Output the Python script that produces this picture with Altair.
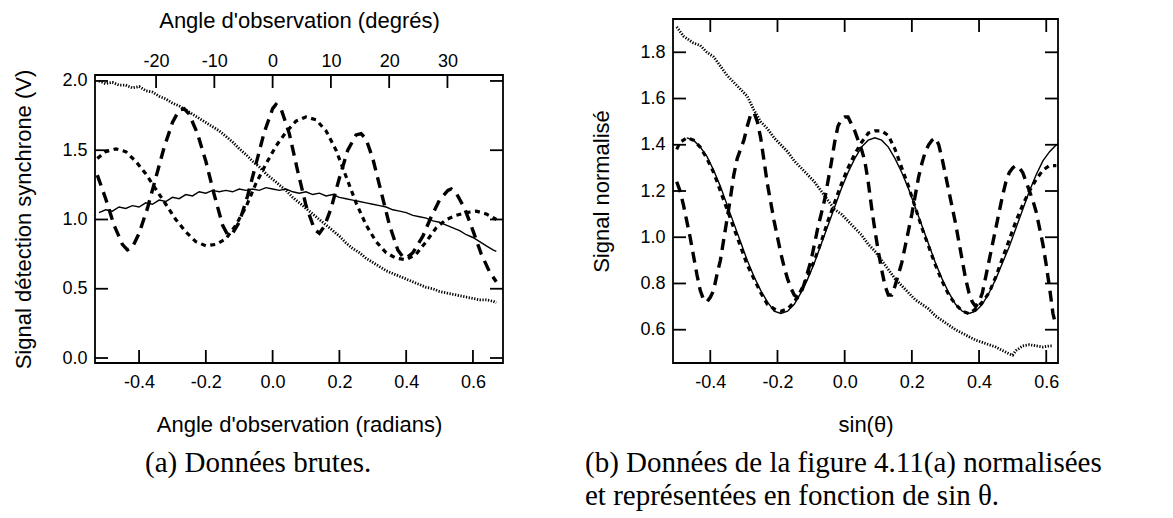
import math
import altair as alt
import pandas as pd

# ---------------- data : panel (a) ----------------
LA_X = [-0.52, -0.50, -0.48, -0.46, -0.44, -0.42, -0.40, -0.38, -0.36, -0.34, -0.32, -0.30,
        -0.28, -0.26, -0.24, -0.22, -0.20, -0.18, -0.16, -0.14, -0.12, -0.10, -0.08, -0.06,
        -0.04, -0.02, 0.00, 0.02, 0.04, 0.06, 0.08, 0.10, 0.12, 0.14, 0.16, 0.18, 0.20, 0.22,
        0.24, 0.26, 0.28, 0.30, 0.32, 0.34, 0.36, 0.38, 0.40, 0.42, 0.44, 0.46, 0.48, 0.50,
        0.52, 0.54, 0.56, 0.58, 0.60, 0.62, 0.64, 0.66, 0.67]
LA_SOLID = [1.05, 1.07, 1.06, 1.09, 1.08, 1.10, 1.09, 1.12, 1.11, 1.14, 1.13, 1.16,
            1.15, 1.18, 1.17, 1.20, 1.19, 1.21, 1.20, 1.21, 1.20, 1.22, 1.21, 1.22,
            1.21, 1.23, 1.22, 1.21, 1.22, 1.20, 1.19, 1.20, 1.18, 1.19, 1.17, 1.18, 1.16, 1.15,
            1.14, 1.13, 1.12, 1.11, 1.10, 1.09, 1.07, 1.06, 1.05, 1.03, 1.02, 1.01, 0.99, 0.98,
            0.96, 0.94, 0.92, 0.89, 0.87, 0.84, 0.81, 0.78, 0.77]
LA_DOT = [2.00, 1.98, 1.99, 1.97, 1.97, 1.95, 1.96, 1.93, 1.92, 1.89, 1.87, 1.84,
          1.82, 1.79, 1.76, 1.73, 1.70, 1.67, 1.64, 1.60, 1.56, 1.51, 1.47, 1.42,
          1.38, 1.33, 1.29, 1.25, 1.21, 1.16, 1.12, 1.08, 1.04, 1.00, 0.96, 0.92, 0.88, 0.83,
          0.79, 0.76, 0.72, 0.69, 0.66, 0.63, 0.61, 0.59, 0.57, 0.55, 0.53, 0.51, 0.50, 0.48,
          0.47, 0.46, 0.45, 0.44, 0.43, 0.42, 0.42, 0.41, 0.40]
LA_SHORT_X = [-0.525, -0.50, -0.47, -0.44, -0.41, -0.38, -0.35, -0.32, -0.29, -0.26, -0.23,
              -0.20, -0.17, -0.14, -0.11, -0.08, -0.05, -0.02, 0.01, 0.04, 0.07, 0.10, 0.13,
              0.16, 0.19, 0.22, 0.25, 0.28, 0.31, 0.34, 0.37, 0.40, 0.43, 0.46, 0.49, 0.52,
              0.55, 0.58, 0.61, 0.64, 0.67]
LA_SHORT = [1.44, 1.49, 1.51, 1.49, 1.42, 1.33, 1.22, 1.11, 1.00, 0.91, 0.84,
            0.81, 0.82, 0.86, 0.96, 1.09, 1.26, 1.40, 1.53, 1.63, 1.71, 1.74, 1.72,
            1.64, 1.50, 1.31, 1.12, 0.96, 0.84, 0.76, 0.72, 0.71, 0.75, 0.84, 0.94, 1.00,
            1.03, 1.05, 1.06, 1.04, 1.00]
LA_LONG_X = [-0.525, -0.50, -0.475, -0.45, -0.435, -0.42, -0.40, -0.375, -0.35, -0.325, -0.30,
             -0.28, -0.265, -0.25, -0.225, -0.20, -0.175, -0.15, -0.135, -0.12, -0.10, -0.075,
             -0.05, -0.025, 0.0, 0.01, 0.025, 0.05, 0.075, 0.10, 0.125, 0.14, 0.155, 0.175,
             0.20, 0.225, 0.25, 0.265, 0.28, 0.30, 0.325, 0.35, 0.375, 0.39, 0.40, 0.42, 0.45,
             0.475, 0.50, 0.525, 0.535, 0.55, 0.575, 0.60, 0.625, 0.65, 0.67]
LA_LONG = [1.32, 1.15, 0.96, 0.82, 0.78, 0.80, 0.90, 1.08, 1.30, 1.52, 1.70,
           1.79, 1.80, 1.76, 1.62, 1.42, 1.18, 0.96, 0.89, 0.90, 0.98, 1.17,
           1.40, 1.63, 1.80, 1.83, 1.80, 1.62, 1.35, 1.10, 0.93, 0.90, 0.95, 1.08,
           1.30, 1.50, 1.61, 1.62, 1.58, 1.44, 1.20, 0.96, 0.78, 0.73, 0.72, 0.76, 0.88,
           1.02, 1.14, 1.21, 1.22, 1.19, 1.08, 0.92, 0.75, 0.62, 0.55]

# ---------------- data : panel (b) ----------------
LB_DOT_X = [-0.50, -0.49, -0.48, -0.47, -0.45, -0.43, -0.41, -0.39, -0.37, -0.35, -0.33, -0.31,
            -0.29, -0.27, -0.25, -0.23, -0.21, -0.19, -0.17, -0.15, -0.13, -0.11, -0.09, -0.07,
            -0.05, -0.03, -0.01, 0.01, 0.03, 0.05, 0.07, 0.09, 0.11, 0.13, 0.15, 0.17, 0.19,
            0.21, 0.23, 0.25, 0.27, 0.29, 0.31, 0.33, 0.35, 0.37, 0.39, 0.41, 0.43, 0.45, 0.47,
            0.49, 0.50, 0.51, 0.53, 0.55, 0.57, 0.59, 0.61, 0.62]
LB_DOT = [1.91, 1.89, 1.87, 1.86, 1.84, 1.83, 1.80, 1.78, 1.74, 1.70, 1.67, 1.64,
          1.61, 1.55, 1.50, 1.47, 1.43, 1.40, 1.37, 1.33, 1.30, 1.27, 1.24, 1.20,
          1.16, 1.12, 1.10, 1.07, 1.04, 1.01, 0.97, 0.94, 0.90, 0.86, 0.82, 0.79, 0.76,
          0.73, 0.71, 0.69, 0.66, 0.64, 0.62, 0.60, 0.585, 0.57, 0.555, 0.545, 0.535, 0.525, 0.51,
          0.495, 0.49, 0.51, 0.53, 0.535, 0.53, 0.525, 0.53, 0.53]
LB_FIT_X = [-0.47, -0.45, -0.43, -0.41, -0.39, -0.37, -0.35, -0.33, -0.31, -0.29, -0.27, -0.25,
            -0.23, -0.21, -0.19, -0.17, -0.15, -0.13, -0.11, -0.09, -0.07, -0.05, -0.03, -0.01,
            0.01, 0.03, 0.05, 0.07, 0.09, 0.11, 0.13, 0.15, 0.17, 0.19, 0.21, 0.23, 0.25, 0.27,
            0.29, 0.31, 0.33, 0.35, 0.37, 0.39, 0.41, 0.43, 0.45, 0.47, 0.49, 0.51, 0.53, 0.55,
            0.57, 0.59, 0.61, 0.63]
LB_FIT = [1.43, 1.42, 1.39, 1.35, 1.29, 1.22, 1.14, 1.06, 0.98, 0.90, 0.83, 0.77,
          0.72, 0.68, 0.67, 0.68, 0.71, 0.76, 0.82, 0.89, 0.97, 1.05, 1.13, 1.21,
          1.28, 1.34, 1.39, 1.42, 1.43, 1.42, 1.39, 1.34, 1.28, 1.21, 1.13, 1.05, 0.97, 0.89,
          0.82, 0.76, 0.71, 0.68, 0.67, 0.68, 0.71, 0.76, 0.82, 0.89, 0.96, 1.04, 1.12, 1.20,
          1.27, 1.33, 1.37, 1.40]
LB_SHORT_X = [-0.50, -0.49, -0.47, -0.45, -0.43, -0.41, -0.39, -0.37, -0.35, -0.33, -0.31, -0.29,
              -0.27, -0.25, -0.23, -0.21, -0.19, -0.17, -0.15, -0.13, -0.11, -0.09, -0.07, -0.05,
              -0.03, -0.01, 0.01, 0.03, 0.05, 0.07, 0.09, 0.11, 0.13, 0.15, 0.17, 0.19, 0.21,
              0.23, 0.25, 0.27, 0.29, 0.31, 0.33, 0.35, 0.37, 0.39, 0.41, 0.43, 0.45, 0.47, 0.49,
              0.51, 0.53, 0.55, 0.57, 0.59, 0.61, 0.63]
LB_SHORT = [1.38, 1.41, 1.43, 1.42, 1.39, 1.34, 1.28, 1.20, 1.12, 1.04, 0.96, 0.88,
            0.82, 0.76, 0.71, 0.69, 0.68, 0.69, 0.72, 0.77, 0.83, 0.90, 0.98, 1.07,
            1.15, 1.23, 1.30, 1.36, 1.41, 1.45, 1.46, 1.46, 1.44, 1.38, 1.30, 1.22, 1.13,
            1.04, 0.96, 0.88, 0.81, 0.75, 0.71, 0.68, 0.67, 0.69, 0.72, 0.76, 0.83, 0.91, 0.99,
            1.07, 1.14, 1.20, 1.25, 1.29, 1.31, 1.31]
LB_LONG_X = [-0.50, -0.49, -0.48, -0.47, -0.46, -0.45, -0.44, -0.43, -0.42, -0.41, -0.40, -0.39,
             -0.38, -0.37, -0.36, -0.35, -0.34, -0.33, -0.32, -0.31, -0.30, -0.29, -0.28, -0.27,
             -0.26, -0.25, -0.24, -0.23, -0.22, -0.21, -0.20, -0.19, -0.18, -0.17, -0.16, -0.15,
             -0.14, -0.13, -0.12, -0.11, -0.10, -0.09, -0.08, -0.07, -0.06, -0.05, -0.04, -0.03,
             -0.02, -0.01, 0.00, 0.01, 0.02, 0.03, 0.04, 0.05, 0.06, 0.07, 0.08, 0.09, 0.10,
             0.11, 0.12, 0.13, 0.14, 0.15, 0.16, 0.17, 0.18, 0.19, 0.20, 0.21, 0.22, 0.23,
             0.24, 0.25, 0.26, 0.27, 0.28, 0.29, 0.30, 0.31, 0.32, 0.33, 0.34, 0.35, 0.36,
             0.37, 0.38, 0.39, 0.40, 0.41, 0.42, 0.43, 0.44, 0.45, 0.46, 0.47, 0.48, 0.49,
             0.50, 0.51, 0.52, 0.53, 0.54, 0.55, 0.56, 0.57, 0.58, 0.59, 0.60, 0.61, 0.62, 0.625]
LB_LONG = [1.24, 1.20, 1.14, 1.07, 1.00, 0.92, 0.84, 0.77, 0.73, 0.72, 0.74, 0.77,
           0.84, 0.90, 0.99, 1.08, 1.17, 1.27, 1.34, 1.38, 1.42, 1.48, 1.53, 1.54,
           1.50, 1.43, 1.33, 1.23, 1.15, 1.07, 1.00, 0.93, 0.87, 0.82, 0.78, 0.75,
           0.74, 0.76, 0.80, 0.85, 0.90, 0.97, 1.04, 1.10, 1.16, 1.24, 1.32, 1.41,
           1.48, 1.51, 1.52, 1.52, 1.49, 1.46, 1.42, 1.38, 1.33, 1.24, 1.13, 1.03, 0.94,
           0.86, 0.79, 0.75, 0.75, 0.79, 0.84, 0.89, 0.96, 1.03, 1.10, 1.18, 1.26, 1.32,
           1.37, 1.40, 1.42, 1.43, 1.40, 1.34, 1.27, 1.20, 1.13, 1.06, 0.98, 0.90, 0.82,
           0.76, 0.72, 0.70, 0.72, 0.76, 0.83, 0.90, 0.97, 1.04, 1.11, 1.18, 1.24, 1.28,
           1.30, 1.31, 1.30, 1.28, 1.24, 1.20, 1.16, 1.11, 1.04, 0.97, 0.88, 0.78, 0.67, 0.64]

# ---------------- axis tick values ----------------
A_XTICKS = [-0.4, -0.2, 0.0, 0.2, 0.4, 0.6]
A_YTICKS = [0.0, 0.5, 1.0, 1.5, 2.0]
A_DEGTICKS = [-20, -10, 0, 10, 20, 30]
B_XTICKS = [-0.4, -0.2, 0.0, 0.2, 0.4, 0.6]
B_YTICKS = [0.6, 0.8, 1.0, 1.2, 1.4, 1.6, 1.8]

# ---------------- layout ----------------
A_W, A_H = 408, 288
B_W, B_H = 385, 344
TICK = 13
A_XDOM = [-0.532, 0.690]
A_YDOM = [-0.036, 2.043]
A_DEGDOM = [v * 180 / math.pi for v in A_XDOM]
B_XDOM = [-0.511, 0.635]
B_YDOM = [0.456, 1.944]

SANS = "Liberation Sans"
SERIF = "Liberation Serif"


def lab(fmt):
    return ("datum.value < 0 ? '-' + format(-datum.value, '%s') : format(datum.value, '%s')"
            % (fmt, fmt))


STYLES = {
    "solid": dict(strokeWidth=1.4),
    "dot": dict(strokeWidth=2.8, strokeDash=[1.3, 1.5]),
    "short": dict(strokeWidth=3.2, strokeDash=[5, 4.5]),
    "long": dict(strokeWidth=3.4, strokeDash=[11, 7]),
}


def line_layer(xs, ys, style, xscale, yscale, xaxis, yaxis):
    return alt.Chart(pd.DataFrame({"x": xs, "y": ys})).mark_line(
        color="black", strokeCap="butt", **STYLES[style]
    ).encode(
        x=alt.X("x:Q", scale=xscale, axis=xaxis),
        y=alt.Y("y:Q", scale=yscale, axis=yaxis),
    )


def xtick_rules(vals, xscale, xaxis, h, where):
    d = pd.DataFrame({"t": vals})
    if where == "bottom":
        y0, y1 = h, h - TICK
    else:
        y0, y1 = 0, TICK
    return alt.Chart(d).mark_rule(color="black", strokeWidth=1.8).encode(
        x=alt.X("t:Q", scale=xscale, axis=xaxis),
        y=alt.value(y0), y2=alt.value(y1))


def ytick_rules(vals, yscale, yaxis, w, where):
    d = pd.DataFrame({"t": vals})
    if where == "left":
        x0, x1 = 0, TICK
    else:
        x0, x1 = w - TICK, w
    return alt.Chart(d).mark_rule(color="black", strokeWidth=1.8).encode(
        y=alt.Y("t:Q", scale=yscale, axis=yaxis),
        x=alt.value(x0), x2=alt.value(x1))


# ---------------- panel (a) ----------------
ax_s = alt.Scale(domain=A_XDOM, nice=False, zero=False)
ay_s = alt.Scale(domain=A_YDOM, nice=False, zero=False)
a_xaxis = alt.Axis(values=A_XTICKS, labelExpr=lab(".1f"), title="Angle d'observation  (radians)",
                   labelPadding=10, titlePadding=23)
a_yaxis = alt.Axis(values=A_YTICKS, labelExpr=lab(".1f"), title="Signal détection synchrone (V)",
                   labelPadding=8, titlePadding=26)

# x is resolved independently in panel (a) (second, degree axis on top):
# only the first radian layer carries the bottom axis.
a_layers = [
    line_layer(LA_X, LA_DOT, "dot", ax_s, ay_s, a_xaxis, a_yaxis),
    line_layer(LA_SHORT_X, LA_SHORT, "short", ax_s, ay_s, None, a_yaxis),
    line_layer(LA_LONG_X, LA_LONG, "long", ax_s, ay_s, None, a_yaxis),
    line_layer(LA_X, LA_SOLID, "solid", ax_s, ay_s, None, a_yaxis),
    xtick_rules(A_XTICKS, ax_s, None, A_H, "bottom"),
    ytick_rules(A_YTICKS, ay_s, a_yaxis, A_W, "left"),
    ytick_rules(A_YTICKS, ay_s, a_yaxis, A_W, "right"),
    alt.Chart(pd.DataFrame({"d": A_DEGTICKS})).mark_rule(color="black", strokeWidth=1.8).encode(
        x=alt.X("d:Q", scale=alt.Scale(domain=A_DEGDOM, nice=False, zero=False),
                axis=alt.Axis(orient="top", values=A_DEGTICKS, labelExpr=lab("d"),
                              title="Angle d'observation (degrés)", labelPadding=5,
                              titlePadding=20)),
        y=alt.value(0), y2=alt.value(TICK)),
]

panel_a = alt.layer(*a_layers).resolve_scale(x="independent").properties(
    width=A_W, height=A_H,
    title=alt.TitleParams(text="(a) Données brutes.", orient="bottom", anchor="start",
                          frame="group", dx=50, offset=14, font=SERIF, fontSize=29,
                          fontWeight="normal", color="black", align="left"))

spacer = alt.Chart(pd.DataFrame({"s": [0]})).mark_point(opacity=0).properties(
    width=A_W, height=B_H - A_H, view=alt.ViewBackground(stroke="transparent"))

col_a = alt.vconcat(spacer, panel_a, spacing=0, bounds="flush")

# ---------------- panel (b) ----------------
bx_s = alt.Scale(domain=B_XDOM, nice=False, zero=False)
by_s = alt.Scale(domain=B_YDOM, nice=False, zero=False)
b_xaxis = alt.Axis(values=B_XTICKS, labelExpr=lab(".1f"), title="sin(θ)",
                   labelPadding=10, titlePadding=23)
b_yaxis = alt.Axis(values=B_YTICKS, labelExpr=lab(".1f"), title="Signal normalisé",
                   labelPadding=8, titlePadding=26)

b_layers = [
    line_layer(LB_DOT_X, LB_DOT, "dot", bx_s, by_s, b_xaxis, b_yaxis),
    line_layer(LB_SHORT_X, LB_SHORT, "short", bx_s, by_s, b_xaxis, b_yaxis),
    line_layer(LB_LONG_X, LB_LONG, "long", bx_s, by_s, b_xaxis, b_yaxis),
    line_layer(LB_FIT_X, LB_FIT, "solid", bx_s, by_s, b_xaxis, b_yaxis),
    xtick_rules(B_XTICKS, bx_s, b_xaxis, B_H, "bottom"),
    xtick_rules(B_XTICKS, bx_s, b_xaxis, B_H, "top"),
    ytick_rules(B_YTICKS, by_s, b_yaxis, B_W, "left"),
    ytick_rules(B_YTICKS, by_s, b_yaxis, B_W, "right"),
]

panel_b = alt.layer(*b_layers).properties(
    width=B_W, height=B_H,
    title=alt.TitleParams(text=["(b) Données de la figure 4.11(a) normalisées",
                                "et représentées en fonction de sin θ."],
                          orient="bottom", anchor="start", frame="group", dx=-88, offset=14,
                          font=SERIF, fontSize=29, fontWeight="normal", color="black",
                          align="left", lineHeight=33))

chart = alt.hconcat(col_a, panel_b, spacing=79).configure_view(
    stroke="black", strokeWidth=1.8
).configure_axis(
    labelFont=SANS, labelFontSize=18, labelColor="black",
    titleFont=SANS, titleFontSize=22, titleFontWeight="normal", titleColor="black",
    ticks=False, domain=False, grid=False, labelOverlap=False, labelFlush=False
).properties(
    padding={"left": 4, "top": 0, "right": 5, "bottom": 0}
)

chart.save("out.html", embed_options={"renderer": "svg", "actions": False})
